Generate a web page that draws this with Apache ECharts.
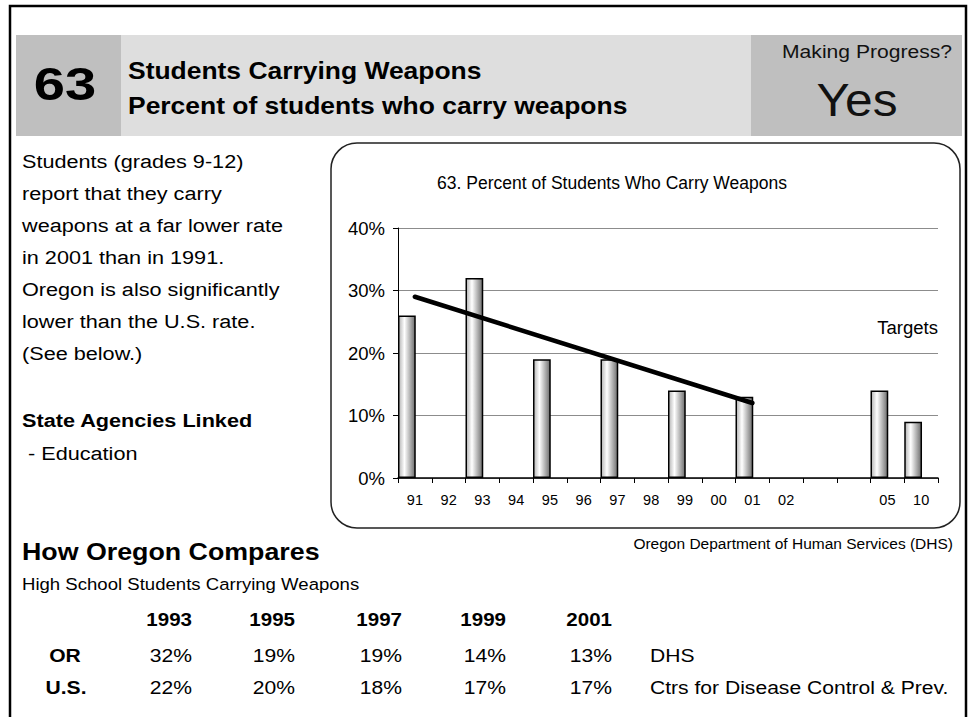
<!DOCTYPE html>
<html>
<head>
<meta charset="utf-8">
<title>Students Carrying Weapons</title>
<script src="https://cdn.jsdelivr.net/npm/echarts@6/dist/echarts.min.js"></script>
<style>
  html, body { margin: 0; padding: 0; background: #fff; }
  #page { width: 974px; height: 717px; }
</style>
</head>
<body>
<div id="page"></div>
<script>
// chart data
const years = ['91', '92', '93', '94', '95', '96', '97', '98', '99', '00', '01', '02', ' ', '  ', '05', '10'];
const percent = [26, null, 32, null, 19, null, 19, null, 14, null, 13, null, null, null, 14, 9];
const trendYears = ['91', '01'];
const trendValues = [29, 12];
const yTicks = [0, 10, 20, 30, 40];

// comparison table
const compareYears = ['1993', '1995', '1997', '1999', '2001'];
const orValues = [32, 19, 19, 14, 13];
const usValues = [22, 20, 18, 17, 17];

const introLines = [
  'Students (grades 9-12)',
  'report that they carry',
  'weapons at a far lower rate',
  'in 2001 than in 1991.',
  'Oregon is also significantly',
  'lower than the U.S. rate.',
  '(See below.)'
];

const FONT = '"Liberation Sans", Arial, Helvetica, sans-serif';
// the page text is a little wider than the font at its height
const WIDE = 1.14;

function txt(x, y, text, size, opts) {
  opts = opts || {};
  return {
    type: 'text',
    x: x,
    y: y,
    scaleX: opts.sx || WIDE,
    silent: true,
    style: {
      text: text,
      fontFamily: FONT,
      fontSize: size,
      fontWeight: opts.bold ? 'bold' : 'normal',
      fill: opts.color || '#000',
      align: opts.align || 'left',
      verticalAlign: 'middle'
    }
  };
}

const colRight = [192, 295, 402, 506, 612];

const graphics = [];
// page frame
graphics.push({
  type: 'rect', silent: true, z: -10,
  shape: { x: 10, y: 6, width: 956, height: 730 },
  style: { fill: 'none', stroke: '#000', lineWidth: 2.5 }
});
// header band
graphics.push({ type: 'rect', silent: true, z: -5, shape: { x: 16, y: 35, width: 105, height: 101 }, style: { fill: '#bfbfbf' } });
graphics.push({ type: 'rect', silent: true, z: -5, shape: { x: 121, y: 35, width: 630, height: 101 }, style: { fill: '#dedede' } });
graphics.push({ type: 'rect', silent: true, z: -5, shape: { x: 751, y: 35, width: 211, height: 101 }, style: { fill: '#bfbfbf' } });
graphics.push(txt(65, 84, '63', 46, { bold: true, align: 'center', sx: 1.22 }));
graphics.push(txt(128, 71, 'Students Carrying Weapons', 23, { bold: true, sx: 1.15 }));
graphics.push(txt(128, 106, 'Percent of students who carry weapons', 23, { bold: true, sx: 1.15 }));
graphics.push(txt(867, 51, 'Making Progress?', 18.5, { align: 'center', color: '#111' }));
graphics.push(txt(857, 100, 'Yes', 46, { align: 'center', color: '#111', sx: 1.08 }));

// left text
introLines.forEach((line, i) => {
  graphics.push(txt(22, 161 + i * 32, line, 19));
});
graphics.push(txt(22, 420, 'State Agencies Linked', 19, { bold: true }));
graphics.push(txt(22, 453, ' - Education', 19));

// chart frame
graphics.push({
  type: 'rect', silent: true, z: -5,
  shape: { x: 331, y: 143, width: 629, height: 385, r: 26 },
  style: { fill: 'none', stroke: '#222', lineWidth: 1.5 }
});
graphics.push(txt(612, 183, '63. Percent of Students Who Carry Weapons', 17.5, { align: 'center', sx: 1 }));
graphics.push(txt(938, 328, 'Targets', 18, { align: 'right', sx: 1.03 }));
graphics.push(txt(953, 543, 'Oregon Department of Human Services (DHS)', 15.5, { align: 'right', sx: 1 }));

// compare section
graphics.push(txt(22, 552, 'How Oregon Compares', 23.5, { bold: true }));
graphics.push(txt(22, 584, 'High School Students Carrying Weapons', 16.3));
compareYears.forEach((yr, i) => {
  graphics.push(txt(colRight[i], 620, yr, 18, { bold: true, align: 'right' }));
  graphics.push(txt(colRight[i], 655, orValues[i] + '%', 18.5, { align: 'right' }));
  graphics.push(txt(colRight[i], 687, usValues[i] + '%', 18.5, { align: 'right' }));
});
graphics.push(txt(65, 655, 'OR', 18.5, { bold: true, align: 'center' }));
graphics.push(txt(66, 687, 'U.S.', 18.5, { bold: true, align: 'center' }));
graphics.push(txt(650, 655, 'DHS', 18.5));
graphics.push(txt(650, 687, 'Ctrs for Disease Control & Prev.', 18.5));

const barFill = {
  type: 'linear', x: 0, y: 0, x2: 1, y2: 0,
  colorStops: [
    { offset: 0, color: '#b4b4b4' },
    { offset: 0.35, color: '#ffffff' },
    { offset: 1, color: '#6e6e6e' }
  ]
};

const chart = echarts.init(document.getElementById('page'), null, { renderer: 'svg', width: 974, height: 717 });

const option = {
  animation: false,
  backgroundColor: '#fff',
  textStyle: { fontFamily: FONT },
  grid: { left: 398, right: 36, top: 228, bottom: 239, containLabel: false },
  xAxis: {
    type: 'category',
    data: years,
    boundaryGap: true,
    axisLine: { lineStyle: { color: '#000', width: 1.5 } },
    axisTick: { show: true, interval: 0, length: 5, lineStyle: { color: '#000' } },
    axisLabel: { interval: 0, color: '#000', fontSize: 14.5, margin: 14 },
    splitLine: { show: false }
  },
  yAxis: {
    type: 'value',
    min: yTicks[0],
    max: yTicks[yTicks.length - 1],
    interval: 10,
    axisLine: { show: true, lineStyle: { color: '#000', width: 1 } },
    axisTick: { show: true, length: 5, lineStyle: { color: '#000' } },
    axisLabel: { formatter: '{value}%', color: '#000', fontSize: 18.5, margin: 13 },
    splitLine: { show: true, lineStyle: { color: '#8c8c8c', width: 1 } }
  },
  series: [
    {
      name: 'Percent',
      type: 'bar',
      data: percent,
      barCategoryGap: '0%',
      barGap: '-10%',
      itemStyle: { color: barFill, borderColor: '#000', borderWidth: 1.5 },
      z: 2
    },
    {
      // empty slot keeps the bars on the left half of each year
      name: 'spacer',
      type: 'bar',
      data: [],
      silent: true
    },
    {
      name: 'Trend',
      type: 'line',
      data: trendYears.map((y, i) => [y, trendValues[i]]),
      symbol: 'none',
      lineStyle: { color: '#000', width: 4.5, cap: 'round' },
      z: 5
    }
  ],
  graphic: graphics
};

chart.setOption(option);
</script>
</body>
</html>
